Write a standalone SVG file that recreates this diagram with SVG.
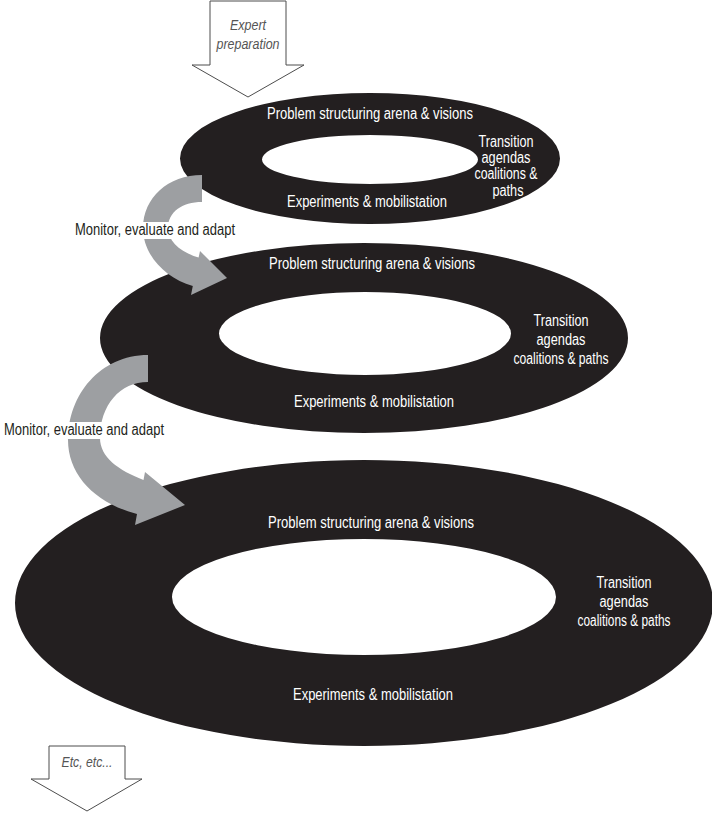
<svg xmlns="http://www.w3.org/2000/svg" width="712" height="813" viewBox="0 0 712 813">
  <style>
    .ring { fill: #231f20; fill-rule: evenodd; }
    .in { font-family: "Liberation Sans Narrow", "Liberation Sans", Arial, sans-serif; font-size: 16px; fill: #ffffff; text-anchor: middle; }
    .lbl { font-family: "Liberation Sans Narrow", "Liberation Sans", Arial, sans-serif; font-size: 16px; fill: #231f20; text-anchor: middle; }
    .note { font-family: "Liberation Sans Narrow", "Liberation Sans", Arial, sans-serif; font-size: 15px; font-style: italic; fill: #555555; text-anchor: middle; }
    .block { fill: #ffffff; stroke: #4d4d4d; stroke-width: 1; }
    .loop { fill: #9d9fa2; }
  </style>

  <!-- input arrow -->
  <g id="expert-preparation">
    <polygon class="block" points="210,1 286,1 286,65 304,65 248,97 192,65 210,65"/>
    <text class="note" x="248" y="30" textLength="36" lengthAdjust="spacingAndGlyphs">Expert</text>
    <text class="note" x="248" y="49" textLength="63" lengthAdjust="spacingAndGlyphs">preparation</text>
  </g>

  <!-- cycle 1 -->
  <g id="cycle-1">
    <path class="ring" d="M180,158.5 a190,65.5 0 1,0 380,0 a190,65.5 0 1,0 -380,0 Z M262,159.5 a108,24.5 0 1,0 216,0 a108,24.5 0 1,0 -216,0 Z"/>
    <text class="in" x="370" y="119" textLength="206" lengthAdjust="spacingAndGlyphs">Problem structuring arena &amp; visions</text>
    <text class="in" x="506" y="147" textLength="55" lengthAdjust="spacingAndGlyphs">Transition</text>
    <text class="in" x="506" y="163" textLength="49" lengthAdjust="spacingAndGlyphs">agendas</text>
    <text class="in" x="506" y="179" textLength="63" lengthAdjust="spacingAndGlyphs">coalitions &amp;</text>
    <text class="in" x="508" y="196" textLength="31" lengthAdjust="spacingAndGlyphs">paths</text>
    <text class="in" x="367" y="207" textLength="160" lengthAdjust="spacingAndGlyphs">Experiments &amp; mobilistation</text>
  </g>

  <!-- cycle 2 -->
  <g id="cycle-2">
    <path class="ring" d="M100,338 a264,95 0 1,0 528,0 a264,95 0 1,0 -528,0 Z M219,333.5 a146,41.5 0 1,0 292,0 a146,41.5 0 1,0 -292,0 Z"/>
    <text class="in" x="372" y="269" textLength="206" lengthAdjust="spacingAndGlyphs">Problem structuring arena &amp; visions</text>
    <text class="in" x="561" y="326" textLength="55" lengthAdjust="spacingAndGlyphs">Transition</text>
    <text class="in" x="561" y="345" textLength="49" lengthAdjust="spacingAndGlyphs">agendas</text>
    <text class="in" x="561" y="364" textLength="95" lengthAdjust="spacingAndGlyphs">coalitions &amp; paths</text>
    <text class="in" x="374" y="407" textLength="160" lengthAdjust="spacingAndGlyphs">Experiments &amp; mobilistation</text>
  </g>

  <!-- cycle 3 -->
  <g id="cycle-3">
    <path class="ring" d="M15,603 a349,143 0 1,0 698,0 a349,143 0 1,0 -698,0 Z M172,597 a192,58 0 1,0 384,0 a192,58 0 1,0 -384,0 Z"/>
    <text class="in" x="371" y="528" textLength="206" lengthAdjust="spacingAndGlyphs">Problem structuring arena &amp; visions</text>
    <text class="in" x="624" y="588" textLength="55" lengthAdjust="spacingAndGlyphs">Transition</text>
    <text class="in" x="624" y="607" textLength="49" lengthAdjust="spacingAndGlyphs">agendas</text>
    <text class="in" x="624" y="626" textLength="93" lengthAdjust="spacingAndGlyphs">coalitions &amp; paths</text>
    <text class="in" x="373" y="700" textLength="160" lengthAdjust="spacingAndGlyphs">Experiments &amp; mobilistation</text>
  </g>

  <!-- feedback loops between cycles -->
  <g id="connectors">
    <g id="loop-1">
      <path class="loop" d="M202,175 C168,175 143,198 143,228 C143,255 165,278 192.8,286 L191,295 L227,278 L200,251 L198.6,257.6 C180,252 168,241 168,228 C168,212 182,202 202,202 Z"/>
      <rect x="72" y="222" width="166" height="17" fill="#ffffff"/>
      <text class="lbl" x="155" y="235" textLength="160" lengthAdjust="spacingAndGlyphs">Monitor, evaluate and adapt</text>
    </g>
    <g id="loop-2">
      <path class="loop" d="M148,355 C100,355 68,395 68,440 C68,475 95,503 137,514 L135,525 L185,505 L145,472 L143.5,480 C118,470 100,457 100,438 C100,405 120,382 148,382 Z"/>
      <rect x="1" y="422" width="167" height="17" fill="#ffffff"/>
      <text class="lbl" x="84" y="435" textLength="160" lengthAdjust="spacingAndGlyphs">Monitor, evaluate and adapt</text>
    </g>
  </g>

  <!-- onward arrow -->
  <g id="etc">
    <polygon class="block" points="49,746 125,746 125,779 142,779 87,811 31,779 49,779"/>
    <text class="note" x="87" y="767" textLength="51" lengthAdjust="spacingAndGlyphs">Etc, etc...</text>
  </g>
</svg>
